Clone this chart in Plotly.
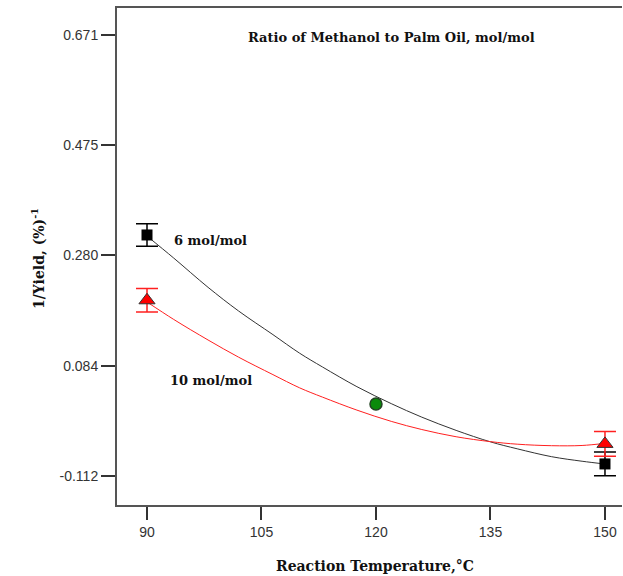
import plotly.graph_objects as go

# measured points
temp_pts = [90, 150]
ratio6_pts = [0.316, -0.0906]
ratio6_err = [0.020, 0.021]
ratio10_pts = [0.200, -0.055]
ratio10_err = [0.021, 0.022]
center_temp = [120]
center_val = [0.0158]

# fitted curves
curve_x = [90, 93.5, 98, 102, 106.5, 110, 113, 117.5, 122, 126, 130.5, 135, 138.5, 143, 147, 150]
curve6 = [0.314, 0.275, 0.223, 0.181, 0.139, 0.106, 0.0815, 0.0466, 0.0165, -0.0075,
          -0.031, -0.0514, -0.0637, -0.0777, -0.0858, -0.0907]
curve10 = [0.197, 0.166, 0.1295, 0.099, 0.068, 0.0445, 0.028, 0.005, -0.015, -0.0295,
           -0.0423, -0.051, -0.0555, -0.0582, -0.0578, -0.054]

ytick_vals = [0.671, 0.475, 0.280, 0.084, -0.112]
ytick_text = ["0.671", "0.475", "0.280", "0.084", "-0.112"]
xtick_vals = [90, 105, 120, 135, 150]

serif = "DejaVu Serif"
sans = "Liberation Sans"

fig = go.Figure()
fig.add_trace(go.Scatter(x=curve_x, y=curve6, mode="lines", line=dict(color="#333333", width=1, shape="spline"),
                         hoverinfo="skip", showlegend=False))
fig.add_trace(go.Scatter(x=curve_x, y=curve10, mode="lines", line=dict(color="#ff2020", width=1, shape="spline"),
                         hoverinfo="skip", showlegend=False))
fig.add_trace(go.Scatter(x=temp_pts, y=ratio6_pts, mode="markers",
                         marker=dict(symbol="square", size=11, color="black"),
                         error_y=dict(type="data", array=ratio6_err, color="black", thickness=1.5, width=11),
                         name="6 mol/mol", showlegend=False))
fig.add_trace(go.Scatter(x=temp_pts, y=ratio10_pts, mode="markers",
                         marker=dict(symbol="triangle-up", size=14, color="#ff0000", line=dict(color="#333333", width=1)),
                         error_y=dict(type="data", array=ratio10_err, color="#ff2020", thickness=1.5, width=11),
                         name="10 mol/mol", showlegend=False))
fig.add_trace(go.Scatter(x=center_temp, y=center_val, mode="markers",
                         marker=dict(symbol="circle", size=12, color="#0a8a0a", line=dict(color="#224422", width=1.5)),
                         name="center", showlegend=False))

txt = dict(family=serif, size=13, color="#111")
fig.add_annotation(x=93.3, y=0.307, xref="x", yref="y", text="<b>6 mol/mol</b>", showarrow=False,
                   xanchor="left", yanchor="middle", font=txt)
fig.add_annotation(x=92.8, y=0.0567, xref="x", yref="y", text="<b>10 mol/mol</b>", showarrow=False,
                   xanchor="left", yanchor="middle", font=txt)
fig.add_annotation(x=0.5426, y=0.94, xref="paper", yref="paper", text="<b>Ratio of Methanol to Palm Oil, mol/mol</b>",
                   showarrow=False, xanchor="center", yanchor="middle", font=txt)
fig.add_annotation(x=0.51, y=-0.123, xref="paper", yref="paper", text="<b>Reaction Temperature,°C</b>",
                   showarrow=False, xanchor="center", yanchor="middle", font=dict(family=serif, size=14, color="#111"))
fig.add_annotation(x=-0.1564, y=0.495, xref="paper", yref="paper", text="<b>1/Yield, (%)<sup>-1</sup></b>",
                   showarrow=False, xanchor="center", yanchor="middle", textangle=-90,
                   font=dict(family=serif, size=14, color="#111"))

fig.update_layout(
    width=623, height=576,
    margin=dict(l=117, r=1, t=8, b=71),
    paper_bgcolor="white", plot_bgcolor="white",
    xaxis=dict(range=[86.07, 152.23], tickvals=xtick_vals, ticks="outside", ticklen=13, tickwidth=1.5,
               tickcolor="#333", showline=True, linecolor="#555", linewidth=2, mirror=True, showgrid=False,
               zeroline=False, tickfont=dict(family=sans, size=14, color="#333")),
    yaxis=dict(range=[-0.1635, 0.719], tickvals=ytick_vals, ticktext=ytick_text, ticks="outside", ticklen=14,
               tickwidth=1.5, tickcolor="#333", showline=True, linecolor="#555", linewidth=2, showgrid=False,
               zeroline=False, tickfont=dict(family=sans, size=14, color="#333")),
)
fig.write_html("out.html")
